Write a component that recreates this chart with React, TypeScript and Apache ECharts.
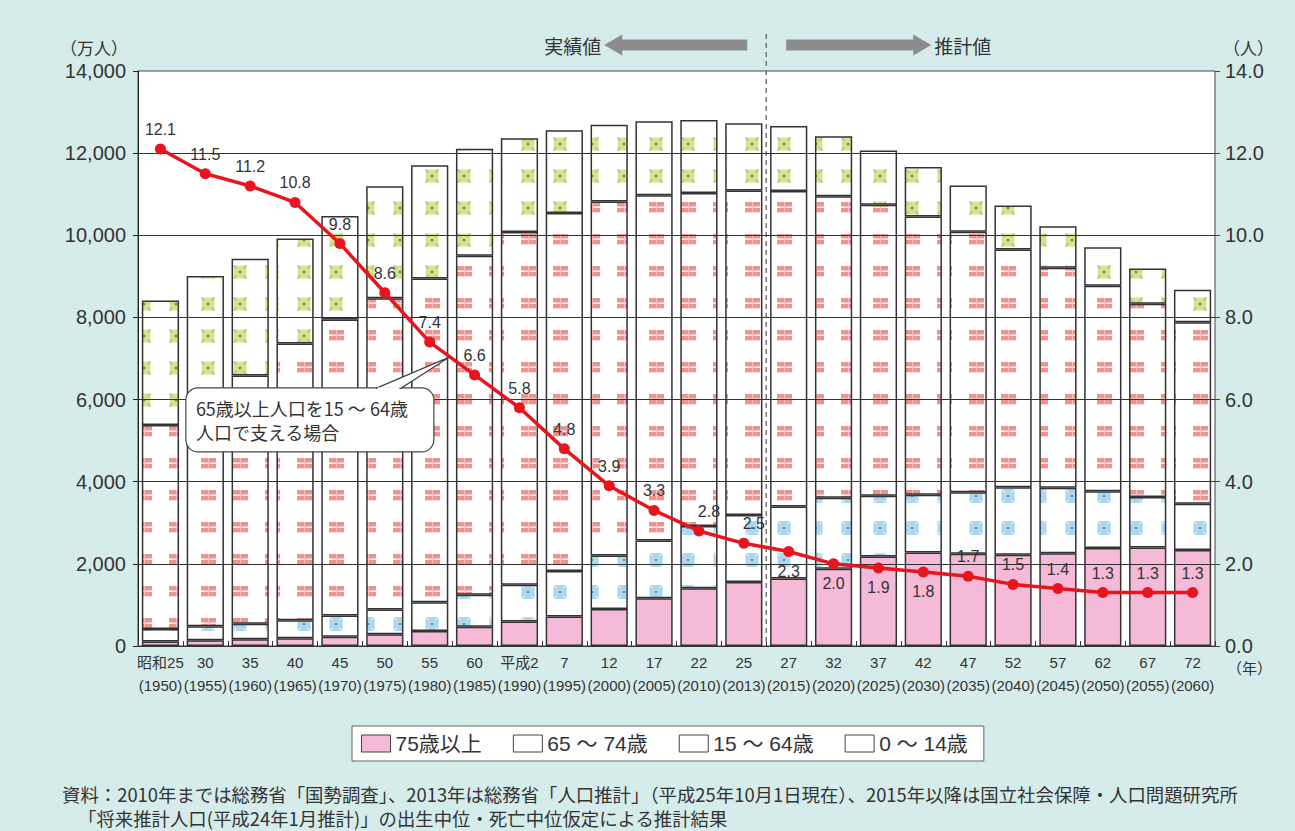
import React, { useEffect, useRef } from "react";
import * as echarts from "echarts";

// ---- data ----
const categories = [
  "昭和25\n(1950)", "30\n(1955)", "35\n(1960)", "40\n(1965)", "45\n(1970)",
  "50\n(1975)", "55\n(1980)", "60\n(1985)", "平成2\n(1990)", "7\n(1995)",
  "12\n(2000)", "17\n(2005)", "22\n(2010)", "25\n(2013)", "27\n(2015)",
  "32\n(2020)", "37\n(2025)", "42\n(2030)", "47\n(2035)", "52\n(2040)",
  "57\n(2045)", "62\n(2050)", "67\n(2055)", "72\n(2060)",
];
// 万人
const age75plus = [107, 139, 164, 190, 224, 284, 366, 471, 597, 717, 901, 1160, 1407, 1560, 1646, 1879, 2179, 2278, 2245, 2223, 2257, 2385, 2401, 2336];
const age65to74 = [309, 339, 376, 434, 516, 603, 699, 779, 892, 1109, 1301, 1407, 1517, 1630, 1749, 1733, 1479, 1407, 1496, 1645, 1599, 1383, 1224, 1128];
const age15to64 = [4966, 5517, 6047, 6744, 7212, 7581, 7883, 8251, 8590, 8716, 8622, 8409, 8103, 7901, 7682, 7341, 7085, 6773, 6343, 5787, 5353, 5001, 4706, 4418];
const age0to14 = [3029, 3013, 2843, 2553, 2515, 2726, 2758, 2604, 2282, 2015, 1869, 1801, 1779, 1639, 1583, 1457, 1323, 1204, 1128, 1073, 1012, 939, 862, 792];
// 人 (15～64歳人口 / 65歳以上人口)
const supportRatio = [12.1, 11.5, 11.2, 10.8, 9.8, 8.6, 7.4, 6.6, 5.8, 4.8, 3.9, 3.3, 2.8, 2.5, 2.3, 2.0, 1.9, 1.8, 1.7, 1.5, 1.4, 1.3, 1.3, 1.3];
const labelsBelow = [14, 15, 16, 17];
const labelsShifted = [12, 13];

const leftAxis = { min: 0, max: 14000, interval: 2000 };
const rightAxis = { min: 0, max: 14, interval: 2 };
const seriesNames = ["75歳以上", "65 ～ 74歳", "15 ～ 64歳", "0 ～ 14歳"];

const BG = "#d6ecea";
const PINK = "#f4bad7";
const JP = "'Liberation Sans', Arial, 'Noto Sans CJK JP', sans-serif";
const CJK = "'Noto Sans CJK JP', sans-serif";

function svgUrl(body: string) {
  const s = `<svg xmlns='http://www.w3.org/2000/svg' width='32' height='32'><rect width='32' height='32' fill='#ffffff'/>${body}</svg>`;
  return "data:image/svg+xml;charset=utf-8," + encodeURIComponent(s);
}
const redTile = svgUrl(
  "<rect x='9' y='10' width='15' height='4.5' fill='#f2928d'/><rect x='9' y='15.8' width='15' height='4.5' fill='#f2928d'/><rect x='16' y='10' width='1' height='10.3' fill='#f9c4c0'/>"
);
const greenTile = svgUrl(
  "<rect x='9.5' y='9.5' width='13' height='13' fill='#d2e491'/><path d='M9.5 9.5 L13 13 M22.5 9.5 L19 13 M9.5 22.5 L13 19 M22.5 22.5 L19 19' stroke='#b5cf6a' stroke-width='1.6'/><circle cx='16' cy='16' r='1.3' fill='#5f8c2e'/>"
);
const blueTile = svgUrl(
  "<rect x='9.5' y='9' width='13' height='14' fill='#acd7f0'/><path d='M9.5 9 L12.5 12 M22.5 9 L19.5 12 M9.5 23 L12.5 20 M22.5 23 L19.5 20' stroke='#d8eefa' stroke-width='1.4'/><circle cx='16' cy='16' r='1.1' fill='#3f7aa6'/>"
);
function pattern(url: string, x: number, y: number) {
  return { image: url, repeat: "repeat", imageWidth: 32, imageHeight: 32, x, y } as any;
}

export default function App() {
  const ref = useRef<HTMLDivElement>(null);
  useEffect(() => {
    if (!ref.current) return;
    const chart = echarts.init(ref.current, null, { renderer: "svg" });
    const gridLines: number[] = [];
    for (let v = leftAxis.min + leftAxis.interval; v < leftAxis.max; v += leftAxis.interval) gridLines.push(v);

    const barBase = {
      type: "bar",
      stack: "pop",
      barCategoryGap: "17%",
      yAxisIndex: 0,
      emphasis: { disabled: true },
      silent: true,
    };
    const fills = [PINK, pattern(blueTile, 4, 2), pattern(redTile, 2, 7), pattern(greenTile, 22, 0)];
    const values = [age75plus, age65to74, age15to64, age0to14];
    const bars = values.map((d, i) => ({
      ...barBase,
      name: seriesNames[i],
      data: d,
      itemStyle: { color: fills[i], borderColor: "#333", borderWidth: 1.5 },
      ...(i === 0
        ? {
            markLine: {
              silent: true,
              symbol: ["none", "none"],
              label: { show: false },
              lineStyle: { color: "#333", width: 1, type: "solid" },
              emphasis: { disabled: true },
              data: gridLines.map((v) => ({ yAxis: v })),
              z: 5,
            },
          }
        : {}),
    }));

    const option: any = {
      animation: false,
      backgroundColor: BG,
      textStyle: { fontFamily: JP },
      grid: {
        left: 138, right: 80, top: 71, bottom: 185,
        show: true, backgroundColor: "#ffffff", borderColor: "#444", borderWidth: 1,
      },
      legend: {
        left: 352, top: 726,
        selectedMode: false,
        padding: [7, 16, 7, 9],
        itemGap: 31,
        itemWidth: 29, itemHeight: 17,
        icon: "rect",
        borderColor: "#666", borderWidth: 1, backgroundColor: "#fff",
        textStyle: { fontSize: 21, color: "#333", fontFamily: JP },
        data: seriesNames.map((n, i) => ({
          name: n,
          itemStyle: { color: i === 0 ? PINK : "#fff", borderColor: "#444", borderWidth: 1 },
        })),
      },
      xAxis: {
        type: "category",
        data: categories,
        axisLine: { show: true, lineStyle: { color: "#333", width: 1 } },
        axisTick: { show: true, inside: true, length: 5, lineStyle: { color: "#333" } },
        axisLabel: { interval: 0, fontSize: 15, lineHeight: 23, margin: 5, color: "#333", fontFamily: JP },
        splitLine: { show: false },
      },
      yAxis: [
        {
          type: "value",
          ...leftAxis,
          axisLine: { show: true, lineStyle: { color: "#222", width: 1 } },
          axisTick: { show: true, length: 5, lineStyle: { color: "#222" } },
          axisLabel: { fontSize: 20, color: "#333", margin: 12 },
          splitLine: { show: false },
        },
        {
          type: "value",
          position: "right",
          ...rightAxis,
          axisLine: { show: false },
          axisTick: { show: true, length: 5, lineStyle: { color: "#444" } },
          axisLabel: { fontSize: 20, color: "#333", margin: 10, formatter: (v: number) => v.toFixed(1) },
          splitLine: { show: false },
        },
      ],
      series: [
        ...bars,
        {
          type: "line",
          name: "支える人数",
          yAxisIndex: 1,
          z: 10,
          silent: true,
          data: supportRatio.map((v, i) => ({
            value: v,
            label: {
              position: labelsBelow.includes(i) ? "bottom" : "top",
              offset: labelsShifted.includes(i) ? [10, 0] : [0, 0],
            },
          })),
          color: "#e8141e",
          lineStyle: { color: "#e8141e", width: 3.5 },
          symbol: "circle",
          symbolSize: 11,
          itemStyle: { color: "#e8141e" },
          label: {
            show: true,
            fontSize: 16,
            color: "#333",
            distance: 6,
            fontFamily: JP,
            formatter: (p: any) => Number(p.value).toFixed(1),
          },
        },
      ],
    };
    chart.setOption(option);

    // decorations positioned from the chart's own scales
    const x13 = chart.convertToPixel({ xAxisIndex: 0 }, 13) as number;
    const x14 = chart.convertToPixel({ xAxisIndex: 0 }, 14) as number;
    const dx = (x13 + x14) / 2;
    const yBottom = chart.convertToPixel({ yAxisIndex: 0 }, 0) as number;
    const yTop = chart.convertToPixel({ yAxisIndex: 0 }, leftAxis.max) as number;
    const p6 = chart.convertToPixel({ seriesIndex: 4 }, [6, supportRatio[6]]) as number[];
    const p7 = chart.convertToPixel({ seriesIndex: 4 }, [7, supportRatio[7]]) as number[];
    const tip = [p6[0] + (p7[0] - p6[0]) * 0.45, p6[1] + (p7[1] - p6[1]) * 0.45];
    const gridLeft = 138;
    const gridRight = 1295 - 80;

    const boxW = 248, boxH = 64;
    const boxX = tip[0] - 264;
    const boxY = tip[1] + 31;
    const tailB1 = boxX + 190, tailB2 = boxX + 215;

    const ay = yTop - 26;
    chart.setOption({
      graphic: [
        {
          type: "line", z: 4, silent: true,
          shape: { x1: dx, y1: yTop - 37, x2: dx, y2: yBottom },
          style: { stroke: "#777", lineWidth: 1.5, lineDash: [5, 4] },
        },
        {
          type: "polygon", silent: true,
          shape: {
            points: [
              [dx - 162, ay], [dx - 144, ay - 10.5], [dx - 144, ay - 5.5], [dx - 19, ay - 5.5],
              [dx - 19, ay + 5.5], [dx - 144, ay + 5.5], [dx - 144, ay + 10.5],
            ],
          },
          style: { fill: "#8c8c8c" },
        },
        {
          type: "polygon", silent: true,
          shape: {
            points: [
              [dx + 165, ay], [dx + 147, ay - 10.5], [dx + 147, ay - 5.5], [dx + 20, ay - 5.5],
              [dx + 20, ay + 5.5], [dx + 147, ay + 5.5], [dx + 147, ay + 10.5],
            ],
          },
          style: { fill: "#8c8c8c" },
        },
        {
          type: "text", silent: true, x: dx - 165, y: ay,
          style: { text: "実績値", fontSize: 19, fill: "#333", fontFamily: CJK, align: "right", verticalAlign: "middle" },
        },
        {
          type: "text", silent: true, x: dx + 168, y: ay,
          style: { text: "推計値", fontSize: 19, fill: "#333", fontFamily: CJK, align: "left", verticalAlign: "middle" },
        },
        {
          type: "text", silent: true, x: gridLeft - 44, y: yTop - 24,
          style: { text: "（万人）", fontSize: 17, fill: "#333", fontFamily: CJK, align: "center", verticalAlign: "middle" },
        },
        {
          type: "text", silent: true, x: gridRight + 8, y: yTop - 24,
          style: { text: "（人）", fontSize: 17, fill: "#333", fontFamily: CJK, align: "left", verticalAlign: "middle" },
        },
        {
          type: "text", silent: true, x: gridRight + 12, y: yBottom + 21,
          style: { text: "（年）", fontSize: 15, fill: "#333", fontFamily: CJK, align: "left", verticalAlign: "middle" },
        },
        // callout
        {
          type: "rect", silent: true, z: 95,
          shape: { x: boxX, y: boxY, width: boxW, height: boxH, r: 12 },
          style: { fill: "#fff", stroke: "#444", lineWidth: 1.2 },
        },
        {
          type: "polygon", silent: true, z: 96,
          shape: { points: [[tailB1, boxY + 0.5], tip, [tailB2, boxY + 0.5]] },
          style: { fill: "#fff", stroke: "#444", lineWidth: 1.2 },
        },
        {
          type: "line", silent: true, z: 97,
          shape: { x1: tailB1 + 1.5, y1: boxY + 0.8, x2: tailB2 - 1.5, y2: boxY + 0.8 },
          style: { stroke: "#fff", lineWidth: 2.5 },
        },
        {
          type: "text", silent: true, z: 98, x: boxX + 10, y: boxY + 32,
          style: {
            text: "65歳以上人口を15 ～ 64歳\n人口で支える場合",
            fontSize: 18, lineHeight: 24, fill: "#333", fontFamily: CJK, align: "left", verticalAlign: "middle",
          },
        },
        // source note
        {
          type: "text", silent: true, x: 62, y: 794,
          style: {
            text: "資料：2010年までは総務省「国勢調査」、2013年は総務省「人口推計」（平成25年10月1日現在）、2015年以降は国立社会保障・人口問題研究所",
            fontSize: 18.4, fill: "#333", fontFamily: CJK, align: "left", verticalAlign: "middle",
          },
        },
        {
          type: "text", silent: true, x: 78, y: 818,
          style: {
            text: "「将来推計人口(平成24年1月推計)」の出生中位・死亡中位仮定による推計結果",
            fontSize: 18.4, fill: "#333", fontFamily: CJK, align: "left", verticalAlign: "middle",
          },
        },
      ],
    });

    return () => chart.dispose();
  }, []);
  return (
    <div
      ref={ref}
      style={{ position: "absolute", left: 0, top: 0, width: 1295, height: 831, background: BG }}
    />
  );
}
